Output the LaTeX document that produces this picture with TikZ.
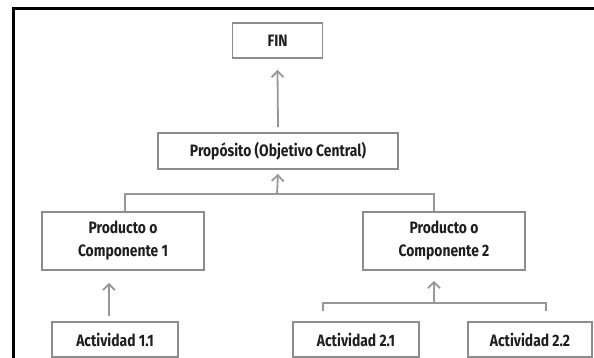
\documentclass[tikz,border=0pt]{standalone}
\usepackage{fontspec}
\setmainfont{Fira Sans}[FakeStretch=0.84]
\usepackage{tikz}
\usetikzlibrary{arrows.meta}
\usetikzlibrary{positioning}
\usetikzlibrary{calc}
\definecolor{borde}{HTML}{8C8C8C}
\definecolor{texto}{HTML}{1E1E1E}
\tikzset{
  >={Straight Barb[length=6pt,width=12pt]},
  marco/.style={draw=black, line width=3pt}
}

\begin{document}
\begin{tikzpicture}[x=1pt, y=-1pt]
    % Define styles
    \tikzstyle{caja} = [rectangle, draw=borde, line width=1.8pt, fill=white, text=texto, inner sep=0pt, align=center, font=\fontsize{16.5}{23}\selectfont\bfseries]
    \tikzstyle{actividad} = [caja, minimum width=125pt, minimum height=35pt]
    \tikzstyle{linea} = [draw=borde!90, line width=1.8pt]
    \tikzstyle{flecha} = [linea, ->]

    \useasboundingbox (0,0) rectangle (594,358);
    \fill[white] (0,0) rectangle (594,358);
    \draw[marco] (13,358) -- (13,9) -- (594,9);

    % Place nodes
    \node [caja, minimum width=90pt, minimum height=35pt] (fin) at (277.5,40.5) {FIN};
    \node [caja, minimum width=240pt, minimum height=36pt] (proposito) at (278,151) {Propósito (Objetivo Central)};
    \node [caja, minimum width=162pt, minimum height=58pt] (producto1) at (123,241) {Producto o\\Componente 1};
    \node [caja, minimum width=162pt, minimum height=58pt] (producto2) at (444,241) {Producto o\\Componente 2};
    \node [actividad, minimum width=126pt] (actividad11) at (115,339.5) {Actividad 1.1};
    \node [actividad, minimum width=126pt] (actividad21) at (356,339.5) {Actividad 2.1};
    \node [actividad, minimum width=124pt] (actividad22) at (530,339.5) {Actividad 2.2};
    \coordinate (union1) at (277,194);
    \coordinate (union2) at (434,303);

    % Draw edges
    \path [flecha] ([yshift=5pt]proposito.north) -- ([yshift=-11pt]fin.south);
    \path [flecha] (union1) -- ([yshift=-4pt]proposito.south);
    \path [linea] ([xshift=2pt]producto1.north) |- (union1) -| ([xshift=-10pt]producto2.north);
    \path [flecha] ([xshift=-6pt,yshift=5pt]actividad11.north) -- ([xshift=-14pt,yshift=-12pt]producto1.south);
    \path [flecha] (union2) -- ([xshift=-10pt,yshift=-10pt]producto2.south);
    \path [linea] ([xshift=-33pt,yshift=10pt]actividad21.north) |- (union2) -| ([xshift=16pt,yshift=10pt]actividad22.north);
\end{tikzpicture}
\end{document}
